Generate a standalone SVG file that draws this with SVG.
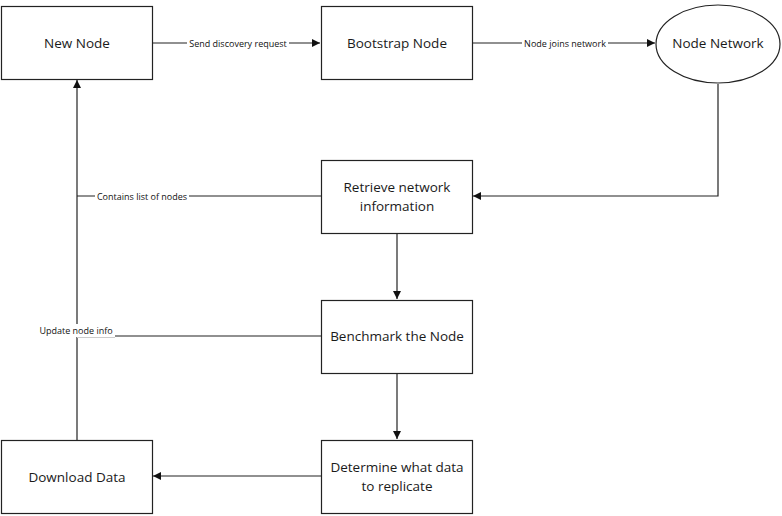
<svg xmlns="http://www.w3.org/2000/svg" width="782" height="516" viewBox="0 0 782 516">
  <style>
    .box { fill: #ffffff; stroke: #222222; stroke-width: 1.2; }
    .txt { font-family: "Open Sans", "Liberation Sans", sans-serif; font-size: 13.5px; fill: #1a1a1a; text-anchor: middle; dominant-baseline: central; }
    .lbl { font-family: "Open Sans", "Liberation Sans", sans-serif; font-size: 9px; fill: #111111; text-anchor: middle; dominant-baseline: central; }
    .edge { fill: none; stroke: #222222; stroke-width: 1.2; }
    .lblbg { fill: #ffffff; stroke: none; }
  </style>
  <defs>
    <marker id="arrow" viewBox="0 0 10 10" refX="10" refY="5" markerWidth="8" markerHeight="8" markerUnits="userSpaceOnUse" orient="auto">
      <path d="M0,0 L10,5 L0,10 z" fill="#111111"/>
    </marker>
  </defs>
  <rect width="782" height="516" fill="#ffffff"/>

  <g id="connectors">
    <path class="edge" d="M152,43 H320" marker-end="url(#arrow)"/>
    <path class="edge" d="M472,43 H655" marker-end="url(#arrow)"/>
    <path class="edge" d="M718,84 V196 H473" marker-end="url(#arrow)"/>
    <path class="edge" d="M321,196 H77"/>
    <path class="edge" d="M321,336 H77"/>
    <path class="edge" d="M77,440 V80" marker-end="url(#arrow)"/>
    <path class="edge" d="M397,233 V299" marker-end="url(#arrow)"/>
    <path class="edge" d="M397,373 V439" marker-end="url(#arrow)"/>
    <path class="edge" d="M321,476 H153" marker-end="url(#arrow)"/>

    <rect class="lblbg" x="187" y="37" width="102" height="12"/>
    <text class="lbl" x="238" y="43">Send discovery request</text>
    <rect class="lblbg" x="522" y="37" width="86" height="12"/>
    <text class="lbl" x="565" y="43">Node joins network</text>
    <rect class="lblbg" x="95" y="190" width="94" height="12"/>
    <text class="lbl" x="142" y="196">Contains list of nodes</text>
    <rect class="lblbg" x="38" y="324" width="77" height="13"/>
    <line x1="77" y1="337.5" x2="115" y2="337.5" stroke="#cccccc" stroke-width="1"/>
    <text class="lbl" x="76" y="330">Update node info</text>
  </g>

  <g id="new-node">
    <rect class="box" x="1.5" y="6.5" width="151" height="73"/>
    <text class="txt" x="77" y="43">New Node</text>
  </g>
  <g id="bootstrap-node">
    <rect class="box" x="321.5" y="6.5" width="151" height="73"/>
    <text class="txt" x="397" y="43">Bootstrap Node</text>
  </g>
  <g id="node-network">
    <ellipse class="box" cx="718" cy="44" rx="62" ry="39"/>
    <text class="txt" x="718" y="43">Node Network</text>
  </g>
  <g id="retrieve-info">
    <rect class="box" x="321.5" y="160.5" width="151" height="73"/>
    <text class="txt" x="397" y="187">Retrieve network</text>
    <text class="txt" x="397" y="206">information</text>
  </g>
  <g id="benchmark">
    <rect class="box" x="321.5" y="300.5" width="151" height="73"/>
    <text class="txt" x="397" y="336">Benchmark the Node</text>
  </g>
  <g id="determine-data">
    <rect class="box" x="321.5" y="440.5" width="151" height="73"/>
    <text class="txt" x="397" y="467">Determine what data</text>
    <text class="txt" x="397" y="486">to replicate</text>
  </g>
  <g id="download-data">
    <rect class="box" x="1.5" y="440.5" width="151" height="73"/>
    <text class="txt" x="77" y="477">Download Data</text>
  </g>
</svg>
